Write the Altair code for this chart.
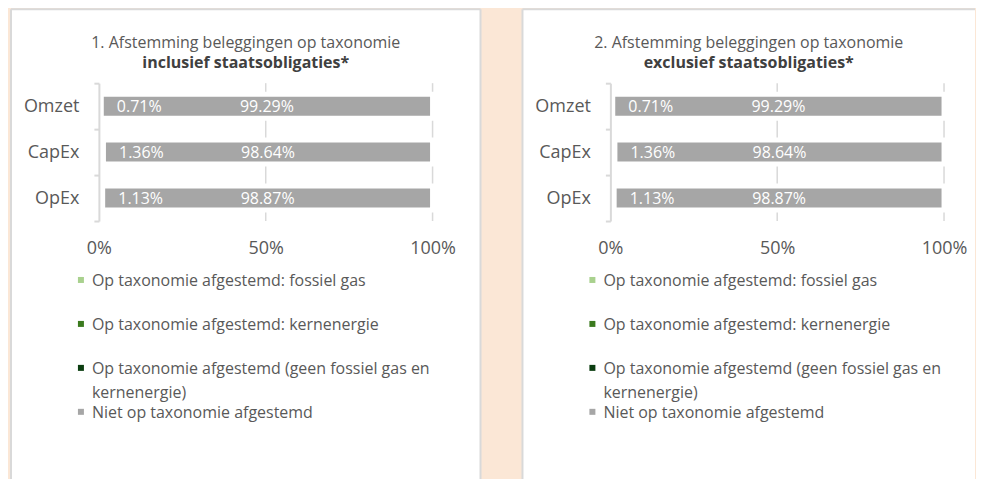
import altair as alt
import pandas as pd

# ---------------- data ----------------
categories = ["Omzet", "CapEx", "OpEx"]
series = [
    "Op taxonomie afgestemd: fossiel gas",
    "Op taxonomie afgestemd: kernenergie",
    "Op taxonomie afgestemd (geen fossiel gas en kernenergie)",
    "Niet op taxonomie afgestemd",
]
series_labels = [
    "Op taxonomie afgestemd: fossiel gas",
    "Op taxonomie afgestemd: kernenergie",
    "Op taxonomie afgestemd (geen fossiel gas en\nkernenergie)",
    "Niet op taxonomie afgestemd",
]
series_colors = ["#A9D18E", "#3B7A1E", "#0B3D10", "#A6A6A6"]

# panel 1: inclusief staatsobligaties
incl_fossil_gas = [0.0, 0.0, 0.0]
incl_nuclear = [0.0, 0.0, 0.0]
incl_aligned_other = [0.71, 1.36, 1.13]
incl_not_aligned = [99.29, 98.64, 98.87]

# panel 2: exclusief staatsobligaties
excl_fossil_gas = [0.0, 0.0, 0.0]
excl_nuclear = [0.0, 0.0, 0.0]
excl_aligned_other = [0.71, 1.36, 1.13]
excl_not_aligned = [99.29, 98.64, 98.87]

x_ticks = [0, 50, 100]
grid_ticks = [50, 100]

title1_line1 = "1. Afstemming beleggingen op taxonomie"
title1_line2 = "inclusief staatsobligaties*"
title2_line1 = "2. Afstemming beleggingen op taxonomie"
title2_line2 = "exclusief staatsobligaties*"

# ---------------- style ----------------
FONT = "Open Sans"
TXT = "#595959"
BORDER = "#D9D9D9"
PEACH = "#FBE7D6"
W, H = 334, 138

color_scale = alt.Scale(domain=series, range=series_colors)
x_scale = alt.Scale(domain=[0, 100], nice=False)
x_axis = alt.Axis(values=x_ticks, labelExpr="datum.value + '%'", domain=False,
                  ticks=False, grid=False, labelFontSize=18, labelColor=TXT,
                  labelPadding=28, labelBaseline="middle", labelFlush=False,
                  title=None, zindex=1)
y_scale = alt.Scale(paddingInner=0, paddingOuter=0)
y_axis = alt.Axis(domainColor=BORDER, domainWidth=2, tickColor=BORDER, tickWidth=2,
                  tickSize=5, tickBand="extent", labelFontSize=18, labelColor=TXT,
                  labelPadding=15, grid=False, title=None, zindex=1)


def panel(fossil, nuclear, aligned, not_aligned, t1, t2, right_edge, right_border):
    rows = []
    for i, c in enumerate(categories):
        vals = [fossil[i], nuclear[i], aligned[i], not_aligned[i]]
        for j, s in enumerate(series):
            rows.append({"category": c, "series": s, "value": vals[j], "order": j})
    bars_df = pd.DataFrame(rows)
    lab_df = pd.DataFrame({"category": categories, "aligned": aligned,
                           "not_aligned": not_aligned})
    one = pd.DataFrame({"k": [1]})
    grid_df = pd.DataFrame({"t": grid_ticks})
    title_df = pd.DataFrame({"line": [t1]})
    title2_df = pd.DataFrame({"line": [t2]})
    legend_df = pd.DataFrame({"series": series, "label": series_labels})

    top, bottom, left = -74, 400, -88

    bg = alt.Chart(one).mark_rect(color="white").encode(
        x=alt.value(left), x2=alt.value(right_edge), y=alt.value(top), y2=alt.value(bottom))
    border_top = alt.Chart(one).mark_rule(color=BORDER, strokeWidth=2).encode(
        x=alt.value(left), x2=alt.value(right_edge), y=alt.value(top))
    border_left = alt.Chart(one).mark_rule(color=BORDER, strokeWidth=2).encode(
        x=alt.value(left), y=alt.value(top), y2=alt.value(bottom))
    layers = [bg, border_top, border_left]
    if right_border:
        layers.append(alt.Chart(one).mark_rule(color=BORDER, strokeWidth=2).encode(
            x=alt.value(right_edge), y=alt.value(top), y2=alt.value(bottom)))

    grid = alt.Chart(grid_df).mark_rule(color=BORDER, strokeWidth=1.5).encode(
        x=alt.X("t:Q", scale=x_scale, axis=x_axis))

    bars = alt.Chart(bars_df).mark_bar(size=24, stroke="white", strokeWidth=5).encode(
        x=alt.X("value:Q", stack="zero", scale=x_scale, axis=x_axis),
        y=alt.Y("category:N", sort=categories, scale=y_scale, axis=y_axis),
        color=alt.Color("series:N", scale=color_scale, legend=None),
        order=alt.Order("order:Q"),
    )

    green_lab = alt.Chart(lab_df).transform_calculate(
        t="format(datum.aligned, '.2f') + '%'"
    ).mark_text(color="white", fontSize=16, dx=38, dy=1, font=FONT).encode(
        x=alt.X("aligned:Q", scale=x_scale, axis=x_axis),
        y=alt.Y("category:N", sort=categories, scale=y_scale, axis=y_axis),
        text="t:N",
    )
    grey_lab = alt.Chart(lab_df).transform_calculate(
        t="format(datum.not_aligned, '.2f') + '%'",
        mid="(datum.aligned + 100) / 2",
    ).mark_text(color="white", fontSize=16, dy=1, font=FONT).encode(
        x=alt.X("mid:Q", scale=x_scale, axis=x_axis),
        y=alt.Y("category:N", sort=categories, scale=y_scale, axis=y_axis),
        text="t:N",
    )

    cx = (left + right_edge) / 2
    tl1 = alt.Chart(title_df).mark_text(fontSize=16, color=TXT, font=FONT).encode(
        x=alt.value(cx), y=alt.value(-40), text="line:N")
    tl2 = alt.Chart(title2_df).mark_text(fontSize=16, color="#404040", fontWeight="bold",
                                         font=FONT).encode(
        x=alt.value(cx), y=alt.value(-20), text="line:N")

    base = alt.layer(*layers, grid, bars, green_lab, grey_lab, tl1, tl2)

    ly = alt.Y("series:N", sort=series, axis=None,
               scale=alt.Scale(type="point", range=[197, 329], padding=0))
    sq = alt.Chart(legend_df).mark_square(size=36, opacity=1).encode(
        x=alt.value(-18), y=ly,
        color=alt.Color("series:N", scale=color_scale, legend=None))
    lt = alt.Chart(legend_df).mark_text(align="left", baseline="alphabetic", dy=6,
                                        lineBreak="\n", lineHeight=24, fontSize=16,
                                        color=TXT, font=FONT).encode(
        x=alt.value(-7), y=ly, text="label:N")
    legend = alt.layer(sq, lt)

    return alt.layer(base, legend).resolve_scale(y="independent").properties(
        width=W, height=H)


p1 = panel(incl_fossil_gas, incl_nuclear, incl_aligned_other, incl_not_aligned,
           title1_line1, title1_line2, 382, True)
p2 = panel(excl_fossil_gas, excl_nuclear, excl_aligned_other, excl_not_aligned,
           title2_line1, title2_line2, 365, False)

chart = alt.hconcat(p1, p2, spacing=40).properties(
    background=PEACH,
    padding={"left": 2, "top": 0, "right": 0, "bottom": 0},
).configure(font=FONT).configure_view(strokeWidth=0)

chart.save("out.html", embed_options={"renderer": "svg", "actions": False})
